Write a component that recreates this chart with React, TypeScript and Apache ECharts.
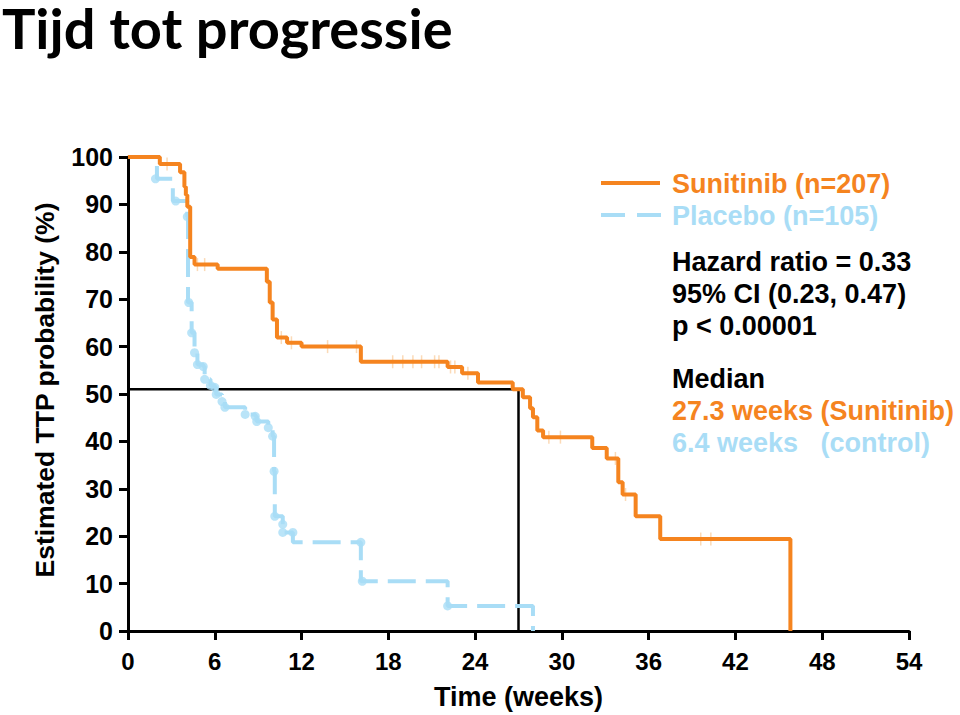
import React, { useEffect, useRef } from "react";
import * as echarts from "echarts";

const ORANGE = "#F5841F";
const BLUE = "#A9DDF6";

// Sunitinib KM steps: [weeks, % after step]
const sunitinibTime = [0, 2.2, 3.6, 3.9, 4.0, 4.1, 4.3, 4.6, 6.2, 9.6, 9.8, 10.0, 10.3, 11.0, 12.0, 16.1, 22.1, 23.1, 24.2, 26.6, 27.3, 27.8, 28.0, 28.3, 28.7, 32.1, 33.1, 33.9, 34.2, 35.1, 36.8, 45.8];
const sunitinibSurv = [100, 98.5, 96.8, 93.7, 92.0, 89.5, 78.9, 77.3, 76.4, 73.7, 69.3, 65.7, 61.9, 60.8, 60.0, 56.8, 55.7, 54.4, 52.4, 51.0, 49.3, 47.0, 45.1, 42.3, 40.9, 38.6, 36.4, 31.4, 28.8, 24.2, 19.4, 0];

// Sunitinib censor ticks
const sunCensorTime = [2.7, 4.8, 5.3, 10.6, 11.3, 13.8, 15.8, 18.3, 19.0, 19.7, 20.3, 21.2, 21.5, 22.3, 22.6, 23.5, 29.1, 29.9, 33.7, 34.4, 39.6, 40.3];
const sunCensorSurv = [98.5, 77.3, 77.3, 61.9, 60.8, 60.0, 60.0, 56.8, 56.8, 56.8, 56.8, 56.8, 56.8, 55.7, 55.7, 54.4, 40.9, 40.9, 36.4, 28.8, 19.4, 19.4];

// Placebo KM steps
const placeboTime = [0, 2.0, 3.1, 4.1, 4.15, 4.4, 4.6, 4.8, 5.2, 5.3, 5.7, 6.0, 6.1, 6.5, 6.7, 8.1, 8.8, 8.9, 9.7, 10.0, 10.1, 10.15, 10.7, 10.8, 11.4, 16.1, 22.1, 28.0];
const placeboSurv = [100, 95.4, 90.7, 87.4, 69.3, 62.9, 58.7, 56.2, 55.8, 53.1, 51.8, 51.4, 49.9, 48.4, 47.2, 45.7, 45.3, 44.2, 42.9, 41.1, 33.7, 24.2, 22.5, 20.8, 18.7, 10.5, 5.3, 0];

// Placebo markers
const plaMarkTime = [1.9, 3.3, 4.1, 4.2, 4.4, 4.6, 4.8, 5.2, 5.3, 5.7, 6.0, 6.1, 6.5, 6.7, 8.1, 8.8, 8.9, 9.7, 10.0, 10.1, 10.15, 10.7, 10.7, 11.4, 16.1, 16.2, 22.1];
const plaMarkSurv = [95.4, 90.7, 87.4, 69.3, 62.9, 58.7, 56.2, 55.8, 53.1, 51.8, 51.4, 49.9, 48.4, 47.2, 45.7, 45.3, 44.2, 42.9, 41.1, 33.7, 24.2, 22.5, 20.8, 20.8, 18.7, 10.5, 5.3];

// Median guide line
const medianTime = [0, 27, 27];
const medianSurv = [51, 51, 0];

const xTickValues = [0, 6, 12, 18, 24, 30, 36, 42, 48, 54];
const yTickValues = [0, 10, 20, 30, 40, 50, 60, 70, 80, 90, 100];

const legendLines = [
  { text: "Sunitinib (n=207)", color: ORANGE, y: 184 },
  { text: "Placebo (n=105)", color: BLUE, y: 216 },
  { text: "Hazard ratio = 0.33", color: "#000", y: 262 },
  { text: "95% CI (0.23, 0.47)", color: "#000", y: 294 },
  { text: "p < 0.00001", color: "#000", y: 326 },
  { text: "Median", color: "#000", y: 379 },
  { text: "27.3 weeks (Sunitinib)", color: ORANGE, y: 411 },
  { text: "6.4 weeks   (control)", color: BLUE, y: 443 },
];

const zip = (a: number[], b: number[]) => a.map((v, i) => [v, b[i]]);

const FONT = "'Liberation Sans', Arial, Helvetica, sans-serif";

export default function App() {
  const ref = useRef<HTMLDivElement>(null);
  useEffect(() => {
    if (!ref.current) return;
    const chart = echarts.init(ref.current, null, { renderer: "svg" });
    const axisLine = { show: true, lineStyle: { color: "#000", width: 3 } };
    const tickStyle = { color: "#000", width: 3 };
    chart.setOption({
      animation: false,
      backgroundColor: "#fff",
      grid: { left: 128, right: 51, top: 157, bottom: 83, containLabel: false },
      xAxis: {
        type: "value",
        min: 0,
        max: 54,
        interval: 6,
        axisLine,
        axisTick: { show: true, length: 9, lineStyle: tickStyle, customValues: xTickValues },
        splitLine: { show: false },
        axisLabel: {
          color: "#000",
          fontFamily: FONT,
          fontWeight: "bold",
          fontSize: 24,
          margin: 18,
          customValues: xTickValues,
        },
        name: "Time (weeks)",
        nameLocation: "middle",
        nameGap: 52,
        nameTextStyle: { color: "#000", fontFamily: FONT, fontWeight: "bold", fontSize: 27 },
      },
      yAxis: {
        type: "value",
        min: 0,
        max: 100,
        interval: 10,
        axisLine,
        axisTick: { show: true, length: 9, lineStyle: tickStyle, customValues: yTickValues },
        splitLine: { show: false },
        axisLabel: {
          color: "#000",
          fontFamily: FONT,
          fontWeight: "bold",
          fontSize: 25,
          margin: 15,
          customValues: yTickValues,
        },
      },
      graphic: [
        {
          type: "text",
          x: 2,
          y: 27,
          style: {
            text: "Tijd tot progressie",
            font: "bold 56px Lato, 'Open Sans', sans-serif",
            fill: "#000",
            verticalAlign: "middle",
          },
        },
        {
          type: "text",
          x: 45,
          y: 390,
          rotation: Math.PI / 2,
          style: {
            text: "Estimated TTP probability (%)",
            font: "bold 26.5px " + FONT,
            fill: "#000",
            align: "center",
            verticalAlign: "middle",
          },
        },
        {
          type: "line",
          shape: { x1: 601, y1: 183, x2: 660, y2: 183 },
          style: { stroke: ORANGE, lineWidth: 4 },
        },
        {
          type: "line",
          shape: { x1: 601, y1: 215, x2: 662, y2: 215 },
          style: { stroke: BLUE, lineWidth: 4, lineDash: [24, 12] },
        },
        ...legendLines.map((l) => ({
          type: "text",
          x: 672,
          y: l.y,
          style: {
            text: l.text,
            font: "bold 27px " + FONT,
            fill: l.color,
            verticalAlign: "middle",
          },
        })),
      ],
      series: [
        {
          type: "line",
          data: zip(medianTime, medianSurv),
          showSymbol: false,
          lineStyle: { color: "#000", width: 2.5 },
          z: 1,
          silent: true,
        },
        {
          name: "Placebo (n=105)",
          type: "line",
          step: "end",
          data: zip(placeboTime, placeboSurv),
          showSymbol: false,
          lineStyle: { color: BLUE, width: 4, type: [28, 10] },
          z: 2,
        },
        {
          type: "scatter",
          data: zip(plaMarkTime, plaMarkSurv),
          symbol: "circle",
          symbolSize: 9,
          itemStyle: { color: BLUE },
          z: 3,
        },
        {
          type: "scatter",
          data: zip(sunCensorTime, sunCensorSurv),
          symbol: "rect",
          symbolSize: [1.5, 13],
          itemStyle: { color: "rgba(245,170,90,0.55)" },
          z: 4,
        },
        {
          name: "Sunitinib (n=207)",
          type: "line",
          step: "end",
          data: zip(sunitinibTime, sunitinibSurv),
          showSymbol: false,
          lineStyle: { color: ORANGE, width: 4 },
          z: 5,
        },
      ],
    });
    return () => chart.dispose();
  }, []);
  return (
    <div
      ref={ref}
      style={{ position: "absolute", left: 0, top: 0, width: 960, height: 715 }}
    />
  );
}
